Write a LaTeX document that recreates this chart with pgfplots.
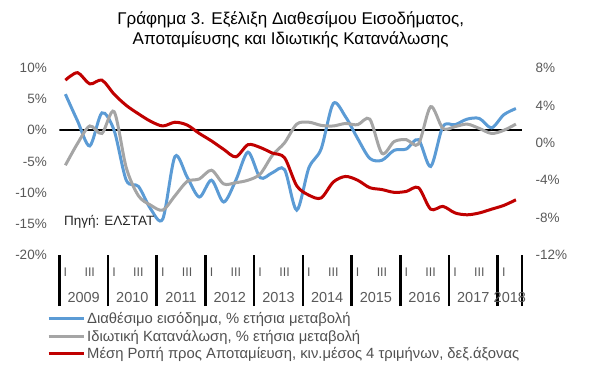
\documentclass[border=0pt]{standalone}
\usepackage{fontspec}
\setmainfont{Liberation Sans}
\usepackage{pgfplots}
\usepackage{pgfplotstable}
\pgfplotsset{compat=1.18}
\definecolor{cblue}{HTML}{5B9BD5}
\definecolor{cgray}{HTML}{A5A5A5}
\definecolor{cred}{HTML}{C00000}
\definecolor{tickgray}{HTML}{595959}
\definecolor{legtext}{HTML}{505050}

\pgfplotstableread{
x inc cons sav
0.5 5.8 -5.6 6.7
1.5 1.5 -2.1 7.5
2.5 -2.5 0.7 6.3
3.5 2.8 -0.5 6.7
4.5 0.0 3.0 5.2
5.5 -8.0 -6.0 4.0
6.5 -9.0 -10.5 3.1
7.5 -12.6 -12.0 2.3
8.5 -14.2 -12.8 1.8
9.5 -4.2 -10.5 2.2
10.5 -7.5 -8.2 1.9
11.5 -10.7 -7.8 1.0
12.5 -8.0 -6.4 0.2
13.5 -11.5 -8.6 -0.7
14.5 -8.0 -8.4 -1.5
15.5 -3.5 -8.0 -0.2
16.5 -7.6 -7.0 -0.5
17.5 -6.8 -4.0 -1.1
18.5 -6.3 -2.0 -1.6
19.5 -12.8 1.0 -4.6
20.5 -6.0 1.3 -5.6
21.5 -3.0 0.8 -5.9
22.5 4.3 0.7 -4.2
23.5 2.2 1.1 -3.6
24.5 -1.3 0.9 -4.0
25.5 -4.5 1.8 -4.8
26.5 -4.8 -3.7 -5.0
27.5 -3.2 -1.8 -5.3
28.5 -3.0 -1.5 -5.2
29.5 -1.5 -2.2 -4.8
30.5 -5.8 3.8 -7.1
31.5 0.6 0.3 -6.8
32.5 0.9 0.6 -7.5
33.5 1.8 1.0 -7.7
34.5 1.9 0.3 -7.5
35.5 0.4 -0.5 -7.1
36.5 2.5 0.0 -6.7
37.5 3.5 1.0 -6.1
}\data

\pgfplotstableread{
x y
0 0
38 0
}\zeroline

\begin{document}
\begin{tikzpicture}
\useasboundingbox (0,0) rectangle (591pt,384pt);
% separators below the plot
\begin{axis}[
  at={(59.3pt,129pt)}, anchor=south west,
  scale only axis, width=462.7pt, height=187pt,
  xmin=0, xmax=38, ymin=0, ymax=1,
  axis line style={draw=none},
  ytick=\empty,
  xtick={0,4,8,12,16,20,24,28,32,36,38},
  xticklabels={},
  xtick pos=lower,
  tick align=outside,
  major tick length=51pt,
  xtick style={draw=black, line width=2.6pt},
]
\end{axis}
\begin{axis}[
  at={(59.3pt,129pt)}, anchor=south west,
  scale only axis, width=462.7pt, height=187pt,
  xmin=0, xmax=38, ymin=-20, ymax=10,
  axis line style={draw=none},
  ytick={-20,-15,-10,-5,0,5,10},
  yticklabels={-20\%,-15\%,-10\%,-5\%,0\%,5\%,10\%},
  ytick style={draw=none},
  major tick length=0pt,
  yticklabel style={font=\fontsize{13.5}{16}\selectfont, text=tickgray, xshift=-9pt},
  xtick=\empty,
  extra x ticks={0.5,2.5,4.5,6.5,8.5,10.5,12.5,14.5,16.5,18.5,20.5,22.5,24.5,26.5,28.5,30.5,32.5,34.5,36.5},
  extra x tick labels={I,III,I,III,I,III,I,III,I,III,I,III,I,III,I,III,I,III,I},
  extra x tick style={major tick length=0pt, xticklabel style={anchor=center, yshift=-17pt, font=\fontsize{12.5}{15}\selectfont, text=tickgray}},
  title={Γράφημα 3. Εξέλιξη Διαθεσίμου Εισοδήματος,\\Αποταμίευσης και Ιδιωτικής Κατανάλωσης},
  title style={anchor=center, yshift=32pt, align=center, font=\fontsize{17}{20}\selectfont, text=black},
  legend cell align=left,
  legend image code/.code={\draw[#1] (0pt,0pt) -- (35pt,0pt);},
  legend style={draw=none, fill=none, at={(axis description cs:-0.0266,-0.295)}, anchor=north west,
    font=\fontsize{14.8}{17}\selectfont, text=legtext, inner sep=0pt, row sep=1pt,
    /tikz/every even column/.append style={column sep=1pt}},
]
\addplot[black, line width=1.8pt, forget plot] table[x=x, y=y] {\zeroline};
\addplot[cblue, line width=3pt, smooth] table[x=x, y=inc] {\data};
\addlegendentry{Διαθέσιμο εισόδημα, \% ετήσια μεταβολή}
\addplot[cgray, line width=3pt, smooth] table[x=x, y=cons] {\data};
\addlegendentry{Ιδιωτική Κατανάλωση, \% ετήσια μεταβολή}
\addlegendimage{cred, line width=3pt}
\addlegendentry{Μέση Ροπή προς Αποταμίευση, κιν.μέσος 4 τριμήνων, δεξ.άξονας}
\node[anchor=west, font=\fontsize{13.5}{15}\selectfont, text=black!85, inner sep=0pt] at (axis cs:0.38,-14.7) {Πηγή: ΕΛΣΤΑΤ};
\end{axis}
\begin{axis}[
  at={(59.3pt,129pt)}, anchor=south west,
  scale only axis, width=462.7pt, height=187pt,
  xmin=0, xmax=38, ymin=-12, ymax=8,
  axis line style={draw=none},
  ytick={-12,-8,-4,0,4,8},
  yticklabels={-12\%,-8\%,-4\%,0\%,4\%,8\%},
  yticklabel pos=right,
  ytick style={draw=none},
  yticklabel style={font=\fontsize{13.5}{16}\selectfont, text=tickgray, xshift=10pt},
  xtick=\empty,
  major tick length=0pt,
  extra x ticks={2,6,10,14,18,22,26,30,34,37},
  extra x tick labels={2009,2010,2011,2012,2013,2014,2015,2016,2017,2018},
  extra x tick style={major tick length=0pt, xticklabel style={anchor=center, yshift=-43pt, font=\fontsize{14.5}{16}\selectfont, text=tickgray}},
]
\addplot[cred, line width=3pt, smooth] table[x=x, y=sav] {\data};
\end{axis}
\end{tikzpicture}
\end{document}
